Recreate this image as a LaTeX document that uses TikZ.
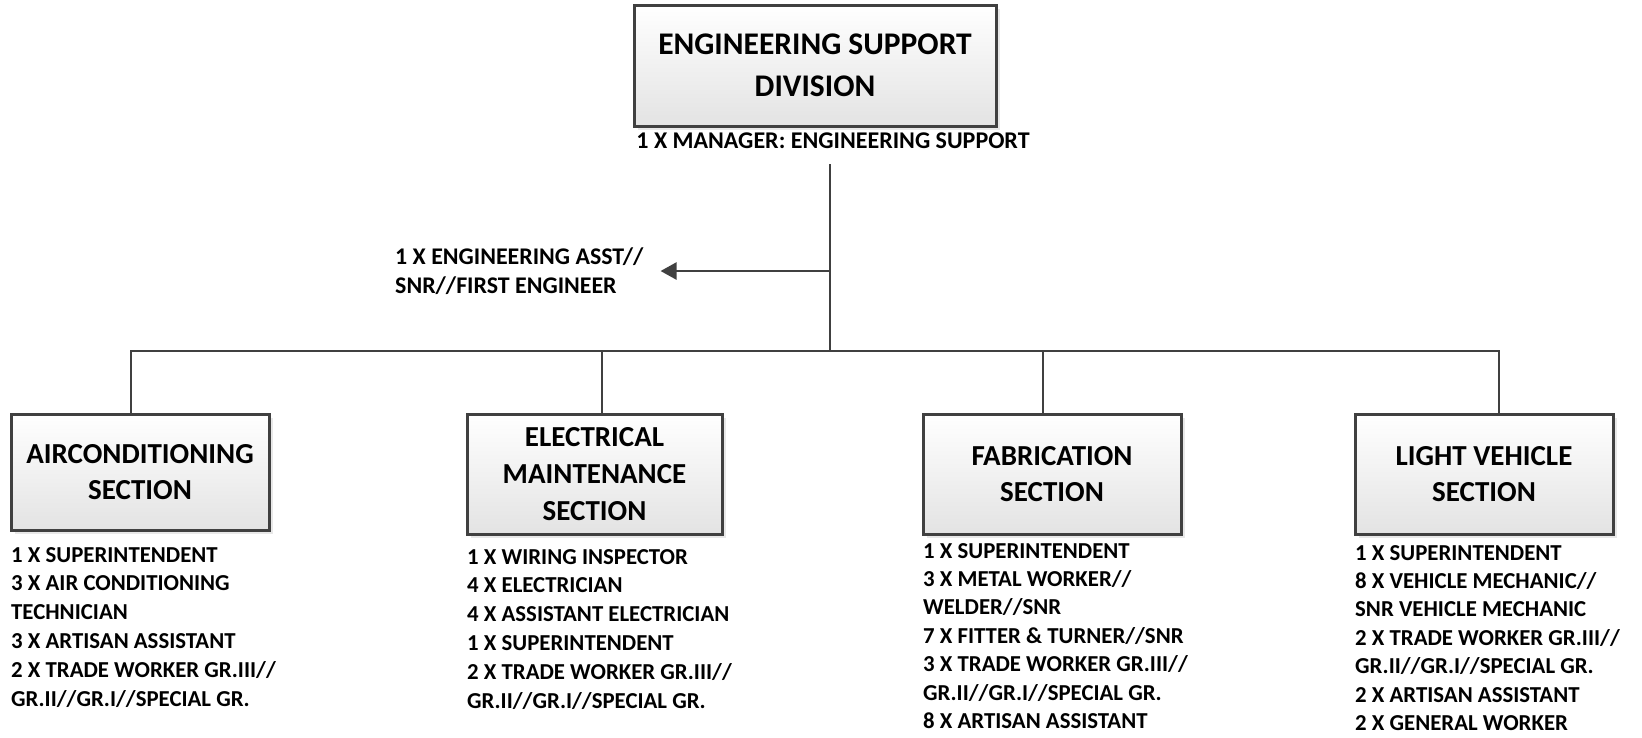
\documentclass[tikz,border=0pt]{standalone}
\usepackage{fontspec}
\setmainfont{Carlito}
\usetikzlibrary{positioning,arrows.meta,shadows,calc}

\definecolor{linegray}{HTML}{404040}
\tikzset{
	unit/.style={draw=linegray, line width=3pt, top color=white, bottom color=gray!22,
		drop shadow={shadow xshift=4pt, shadow yshift=-4pt, opacity=0.18},
		align=center, inner sep=0pt, minimum width=258pt, minimum height=120pt,
		font=\bfseries\fontsize{29}{36.7}\selectfont},
	staff/.style={align=left, inner sep=0pt, font=\bfseries\fontsize{22.8}{28.8}\selectfont},
	wire/.style={draw=linegray, line width=2.5pt},
}

\begin{document}
\begin{tikzpicture}[x=1pt,y=-1pt,>={Triangle[length=16pt,width=17pt]}]
\useasboundingbox (0,0) rectangle (1642,737);

\node[unit, minimum width=362pt, minimum height=121pt,
	font=\bfseries\fontsize{31.5}{41.7}\selectfont] (esd) at (815,65.5) {ENGINEERING SUPPORT\\DIVISION};
\node[staff, anchor=north, font=\bfseries\fontsize{24}{28.8}\selectfont] (mgr) at (833,133) {1 X MANAGER: ENGINEERING SUPPORT};
\node[staff, anchor=north west, font=\bfseries\fontsize{23.9}{29}\selectfont] (asst) at (395,248) {1 X ENGINEERING ASST//\\SNR//FIRST ENGINEER};

\node[unit, minimum height=116pt] (aircon) at (140,472) {AIRCONDITIONING\\SECTION};
\node[unit, minimum width=255pt] (elec) at (594.5,474) {ELECTRICAL\\MAINTENANCE\\SECTION};
\node[unit] (fab) at (1052,474) {FABRICATION\\SECTION};
\node[unit] (lv) at (1484,474) {LIGHT VEHICLE\\SECTION};

\node[staff, anchor=north west] (airconlist) at (11,547) {1 X SUPERINTENDENT\\3 X AIR CONDITIONING\\TECHNICIAN\\3 X ARTISAN ASSISTANT\\2 X TRADE WORKER GR.III//\\GR.II//GR.I//SPECIAL GR.};
\node[staff, anchor=north west] (eleclist) at (467,549) {1 X WIRING INSPECTOR\\4 X ELECTRICIAN\\4 X ASSISTANT ELECTRICIAN\\1 X SUPERINTENDENT\\2 X TRADE WORKER GR.III//\\GR.II//GR.I//SPECIAL GR.};
\node[staff, anchor=north west, font=\bfseries\fontsize{22.8}{28.4}\selectfont] (fablist) at (923,543) {1 X SUPERINTENDENT\\3 X METAL WORKER//\\WELDER//SNR\\7 X FITTER \& TURNER//SNR\\3 X TRADE WORKER GR.III//\\GR.II//GR.I//SPECIAL GR.\\8 X ARTISAN ASSISTANT};
\node[staff, anchor=north west, font=\bfseries\fontsize{22.8}{28.4}\selectfont] (lvlist) at (1355,545) {1 X SUPERINTENDENT\\8 X VEHICLE MECHANIC//\\SNR VEHICLE MECHANIC\\2 X TRADE WORKER GR.III//\\GR.II//GR.I//SPECIAL GR.\\2 X ARTISAN ASSISTANT\\2 X GENERAL WORKER};

% trunk and bus
\coordinate (hub) at (830,351);
\coordinate (branch) at (830,271);
\coordinate (s1) at (131,351);
\coordinate (s2) at (602,351);
\coordinate (s3) at (1043,351);
\coordinate (s4) at (1499,351);

\draw[wire] ($(mgr.south -| hub)+(0,15)$) -- (hub);
\draw[wire,->,fill=linegray] (branch) -- ($(branch -| asst.east)+(17,0)$);
\draw[wire] (s1 |- aircon.north) -- (s1) -- (s4) -- (s4 |- lv.north);
\draw[wire] (s2) -- (s2 |- elec.north);
\draw[wire] (s3) -- (s3 |- fab.north);
\end{tikzpicture}
\end{document}
